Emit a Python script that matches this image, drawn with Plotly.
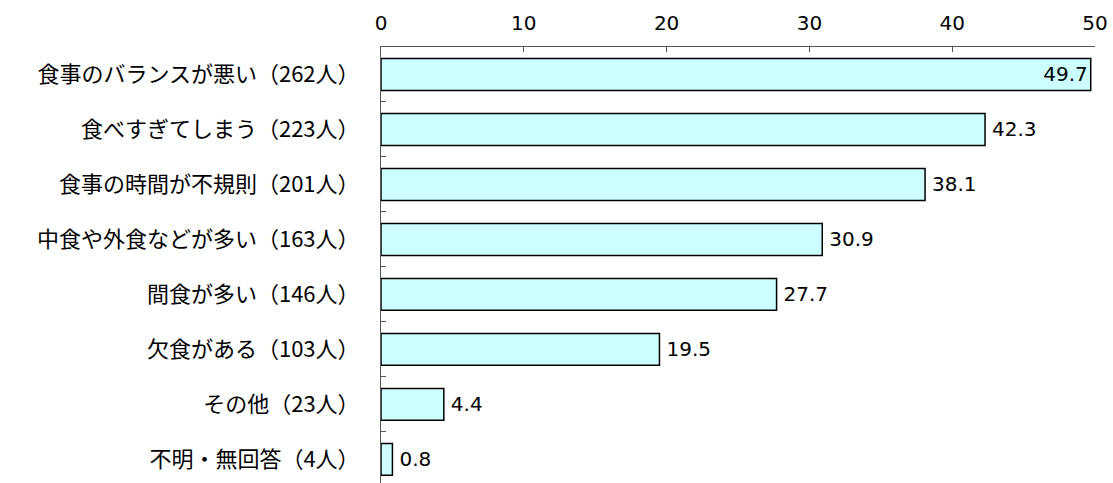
import plotly.graph_objects as go

categories = [
    "食事のバランスが悪い（262人）",
    "食べすぎてしまう（223人）",
    "食事の時間が不規則（201人）",
    "中食や外食などが多い（163人）",
    "間食が多い（146人）",
    "欠食がある（103人）",
    "その他（23人）",
    "不明・無回答（4人）",
]
values = [49.7, 42.3, 38.1, 30.9, 27.7, 19.5, 4.4, 0.8]
x_ticks = [0, 10, 20, 30, 40, 50]

FONT = "Noto Sans CJK JP"
NUMFONT = "DejaVu Sans"

positions = ["inside" if v > 47 else "outside" for v in values]
labels = [f"{v:.1f}" if p == "inside" else "\u2009" + f"{v:.1f}" for v, p in zip(values, positions)]

fig = go.Figure(
    go.Bar(
        x=values,
        y=categories,
        orientation="h",
        width=0.58,
        marker=dict(color="#CCFFFF", line=dict(color="#000000", width=1.5)),
        text=labels,
        textposition=positions,
        insidetextanchor="end",
        textfont=dict(family=NUMFONT, size=20, color="#000000"),
        insidetextfont=dict(family=NUMFONT, size=20, color="#000000"),
        outsidetextfont=dict(family=NUMFONT, size=20, color="#000000"),
        constraintext="none",
        cliponaxis=False,
    )
)

fig.update_layout(
    width=1113,
    height=483,
    margin=dict(l=381, r=18, t=47, b=0),
    plot_bgcolor="white",
    paper_bgcolor="white",
    showlegend=False,
    font=dict(family=FONT, size=18, color="#000000"),
    xaxis=dict(
        side="top",
        range=[0, 50],
        tickvals=x_ticks,
        ticktext=[str(t) for t in x_ticks],
        ticks="inside",
        ticklen=5,
        tickcolor="#555555",
        showline=True,
        linecolor="#555555",
        linewidth=1,
        showgrid=False,
        zeroline=False,
        tickfont=dict(family=NUMFONT, size=20, color="#000000"),
        ticklabelstandoff=8,
    ),
    yaxis=dict(
        type="category",
        range=[7.43, -0.5],
        ticks="inside",
        tickson="boundaries",
        ticklen=5,
        tickcolor="#555555",
        showline=True,
        linecolor="#555555",
        linewidth=1,
        showgrid=False,
        zeroline=False,
        tickfont=dict(family=FONT, size=22, color="#000000"),
        ticklabelstandoff=16,
    ),
)

fig.write_html("out.html")
